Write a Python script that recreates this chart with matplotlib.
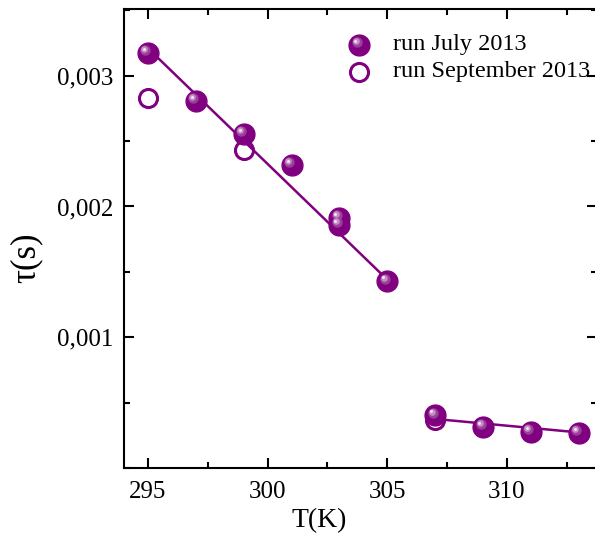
import matplotlib
matplotlib.use('Agg')
import matplotlib.pyplot as plt
from matplotlib.ticker import MultipleLocator, FuncFormatter
from matplotlib.transforms import offset_copy

# data
T_july = [295, 297, 299, 301, 303, 303, 305, 307, 309, 311, 313]
tau_july = [0.003175, 0.00281, 0.002555, 0.00232, 0.001915, 0.00186, 0.00143,
            0.000405, 0.000315, 0.000278, 0.000268]
T_sept = [295, 299, 307, 309, 311, 313]
tau_sept = [0.00283, 0.002435, 0.00037, 0.00031, 0.000275, 0.000265]

# linear fits drawn in the figure
fit1_T = [295, 305]
fit1_tau = [0.00321, 0.00144]
fit2_T = [307, 313]
fit2_tau = [0.000375, 0.000272]

purple = '#800080'
plt.rcParams['font.family'] = ['Liberation Serif', 'DejaVu Serif']

fig = plt.figure(figsize=(5.95, 5.38), dpi=100)
ax = fig.add_axes([124 / 595, 70 / 538, 473 / 595, 459 / 538])


def sphere(ax, x, y, size, transform=None, zorder=3):
    # filled ball with a little highlight to mimic the shaded marker
    if transform is None:
        transform = ax.transData
    ax.plot(x, y, 'o', ms=size, color=purple, mec=purple, ls='none',
            transform=transform, zorder=zorder, clip_on=False)
    layers = [(0.5, '#9a3f9a', -2.5, 2.5), (0.32, '#c48ec4', -3.5, 3.5),
              (0.14, '#f4e6f4', -4, 4)]
    for frac, col, dx, dy in layers:
        tr = offset_copy(transform, fig=fig, x=dx, y=dy, units='dots')
        ax.plot(x, y, 'o', ms=size * frac, color=col, mec='none', ls='none',
                transform=tr, zorder=zorder + 0.1, clip_on=False)


ax.plot(T_sept, tau_sept, 'o', ms=13, mfc='white', mec=purple, mew=2.2,
        ls='none', zorder=2)
ax.plot(fit1_T, fit1_tau, '-', color=purple, lw=1.8, zorder=2.5)
ax.plot(fit2_T, fit2_tau, '-', color=purple, lw=1.8, zorder=2.5)
sphere(ax, T_july, tau_july, 15)

# legend drawn by hand so the ball marker keeps its shading
sphere(ax, [0.497], [0.9216], 15, transform=ax.transAxes, zorder=4)
ax.plot([0.497], [0.863], 'o', ms=13, mfc='white', mec=purple, mew=2.2,
        transform=ax.transAxes, zorder=4)
ax.text(0.569, 0.9216, 'run July 2013', transform=ax.transAxes,
        fontsize=17.5, va='center', ha='left')
ax.text(0.569, 0.863, 'run September 2013', transform=ax.transAxes,
        fontsize=17.5, va='center', ha='left')

ax.set_xlim(294.0, 313.76)
ax.set_ylim(0, 0.00351)
ax.xaxis.set_major_locator(MultipleLocator(5))
ax.xaxis.set_minor_locator(MultipleLocator(2.5))
ax.yaxis.set_major_locator(MultipleLocator(0.001))
ax.yaxis.set_minor_locator(MultipleLocator(0.0005))
ax.yaxis.set_major_formatter(FuncFormatter(lambda v, p: f'{v:.3f}'.replace('.', ',')))

ax.tick_params(which='both', direction='in', top=True, right=True,
               labelsize=18, width=1.5)
ax.tick_params(which='major', length=7)
ax.tick_params(which='minor', length=4)
ax.tick_params(axis='x', pad=9)
ax.tick_params(axis='y', pad=8)
for s in ax.spines.values():
    s.set_linewidth(1.5)

ax.set_xlabel('T(K)', fontsize=20)
ax.xaxis.set_label_coords(0.412, -0.088)
ax.set_ylabel('τ(s)', fontsize=25)
ax.yaxis.set_label_coords(-0.172, 0.4575)
# no label at zero, like the reference
ax.set_yticks([0.001, 0.002, 0.003])

fig.savefig('out.png', dpi=100)
